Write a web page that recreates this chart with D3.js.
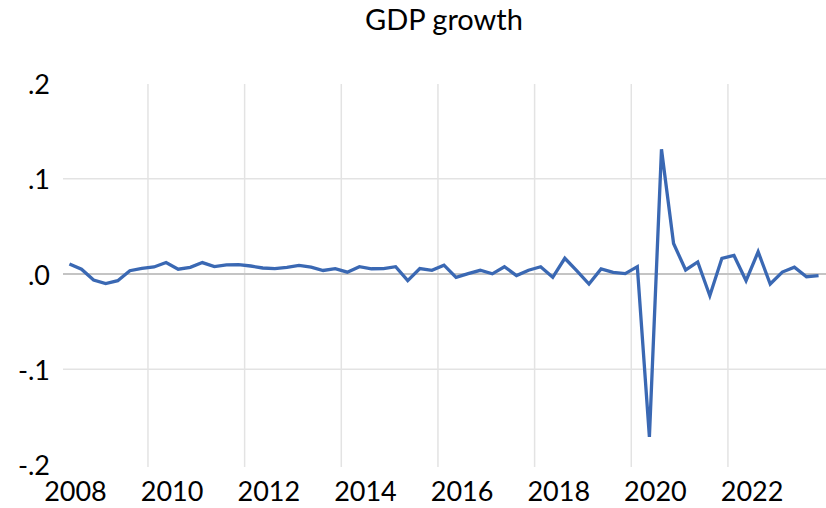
<!DOCTYPE html>
<html>
<head>
<meta charset="utf-8">
<script src="https://cdn.jsdelivr.net/npm/d3@7"></script>
<style>
  html, body { margin: 0; padding: 0; background: #fff; }
  svg { display: block; }
  text { font-family: Lato, "Open Sans", sans-serif; fill: #000; }
</style>
</head>
<body>
<svg id="chart" width="826" height="508"></svg>
<script>
// ---- data ----
const title = "GDP growth";
const startYear = 2008;
const startQuarter = 2;
// quarterly GDP growth, 2008Q2 .. 2023Q4
const growth = [
  0.0105, 0.0050, -0.0063, -0.0100, -0.0070, 0.0035, 0.0060, 0.0074,
  0.0120, 0.0050, 0.0070, 0.0120, 0.0077, 0.0095, 0.0098, 0.0084,
  0.0063, 0.0056, 0.0070, 0.0091, 0.0072, 0.0037, 0.0057, 0.0019,
  0.0077, 0.0055, 0.0056, 0.0077, -0.0070, 0.0057, 0.0039, 0.0093,
  -0.0035, 0.0004, 0.0039, 0.0002, 0.0076, -0.0016, 0.0040, 0.0076,
  -0.0035, 0.0165, 0.0032, -0.0105, 0.0053, 0.0018, 0.0004, 0.0077,
  -0.1710, 0.1310, 0.0320, 0.0042, 0.0126, -0.0228, 0.0165, 0.0195,
  -0.0070, 0.0233, -0.0105, 0.0020, 0.0072, -0.0029, -0.0016
];
const yTicks = [-0.2, -0.1, 0.0, 0.1, 0.2];
const yTickLabels = ["-.2", "-.1", ".0", ".1", ".2"];
const xTicks = [2008, 2010, 2012, 2014, 2016, 2018, 2020, 2022];

// ---- layout ----
const svg = d3.select("#chart");
const plotLeft = 63, plotRight = 826, plotTop = 84, plotBottom = 467;

const x = d3.scaleLinear().domain([2008, 2024]).range([51.3, 824.6]);
const y = d3.scaleLinear().domain([-0.2, 0.2]).range([464.5, 83.5]);

// period -> decimal time at quarter midpoint
const points = growth.map((v, i) => {
  const qIndex = (startQuarter - 1) + i;
  const yr = startYear + Math.floor(qIndex / 4);
  const q = qIndex % 4 + 1;
  return { t: yr + (q - 0.5) / 4, v: v };
});

// vertical gridlines
svg.append("g").selectAll("line")
  .data(xTicks.filter(d => x(d) >= plotLeft))
  .join("line")
  .attr("x1", d => x(d)).attr("x2", d => x(d))
  .attr("y1", plotTop).attr("y2", plotBottom)
  .attr("stroke", "#e3e3e3").attr("stroke-width", 1.5);

// horizontal gridlines (inner ticks only)
svg.append("g").selectAll("line")
  .data(yTicks.filter(d => d !== 0 && Math.abs(d) < 0.2))
  .join("line")
  .attr("x1", plotLeft).attr("x2", plotRight)
  .attr("y1", d => y(d)).attr("y2", d => y(d))
  .attr("stroke", "#e3e3e3").attr("stroke-width", 1.5);

// zero line
svg.append("line")
  .attr("x1", plotLeft).attr("x2", plotRight)
  .attr("y1", y(0)).attr("y2", y(0))
  .attr("stroke", "#c4c4c4").attr("stroke-width", 2);

// y labels
svg.append("g").selectAll("text")
  .data(yTicks)
  .join("text")
  .attr("x", 50)
  .attr("y", d => y(d))
  .attr("text-anchor", "end")
  .attr("dominant-baseline", "central")
  .attr("font-size", 27)
  .text((d, i) => yTickLabels[i]);

// x labels (centred on mid-year)
svg.append("g").selectAll("text")
  .data(xTicks)
  .join("text")
  .attr("x", d => x(d + 0.5))
  .attr("y", 501)
  .attr("text-anchor", "middle")
  .attr("font-size", 27)
  .text(d => d);

// line
const line = d3.line().x(d => x(d.t)).y(d => y(d.v));
svg.append("path")
  .datum(points)
  .attr("d", line)
  .attr("fill", "none")
  .attr("stroke", "#3a68b3")
  .attr("stroke-width", 3.3)
  .attr("stroke-linejoin", "miter");

// title
svg.append("text")
  .attr("x", 444).attr("y", 30)
  .attr("text-anchor", "middle")
  .attr("font-size", 29)
  .text(title);
</script>
</body>
</html>
